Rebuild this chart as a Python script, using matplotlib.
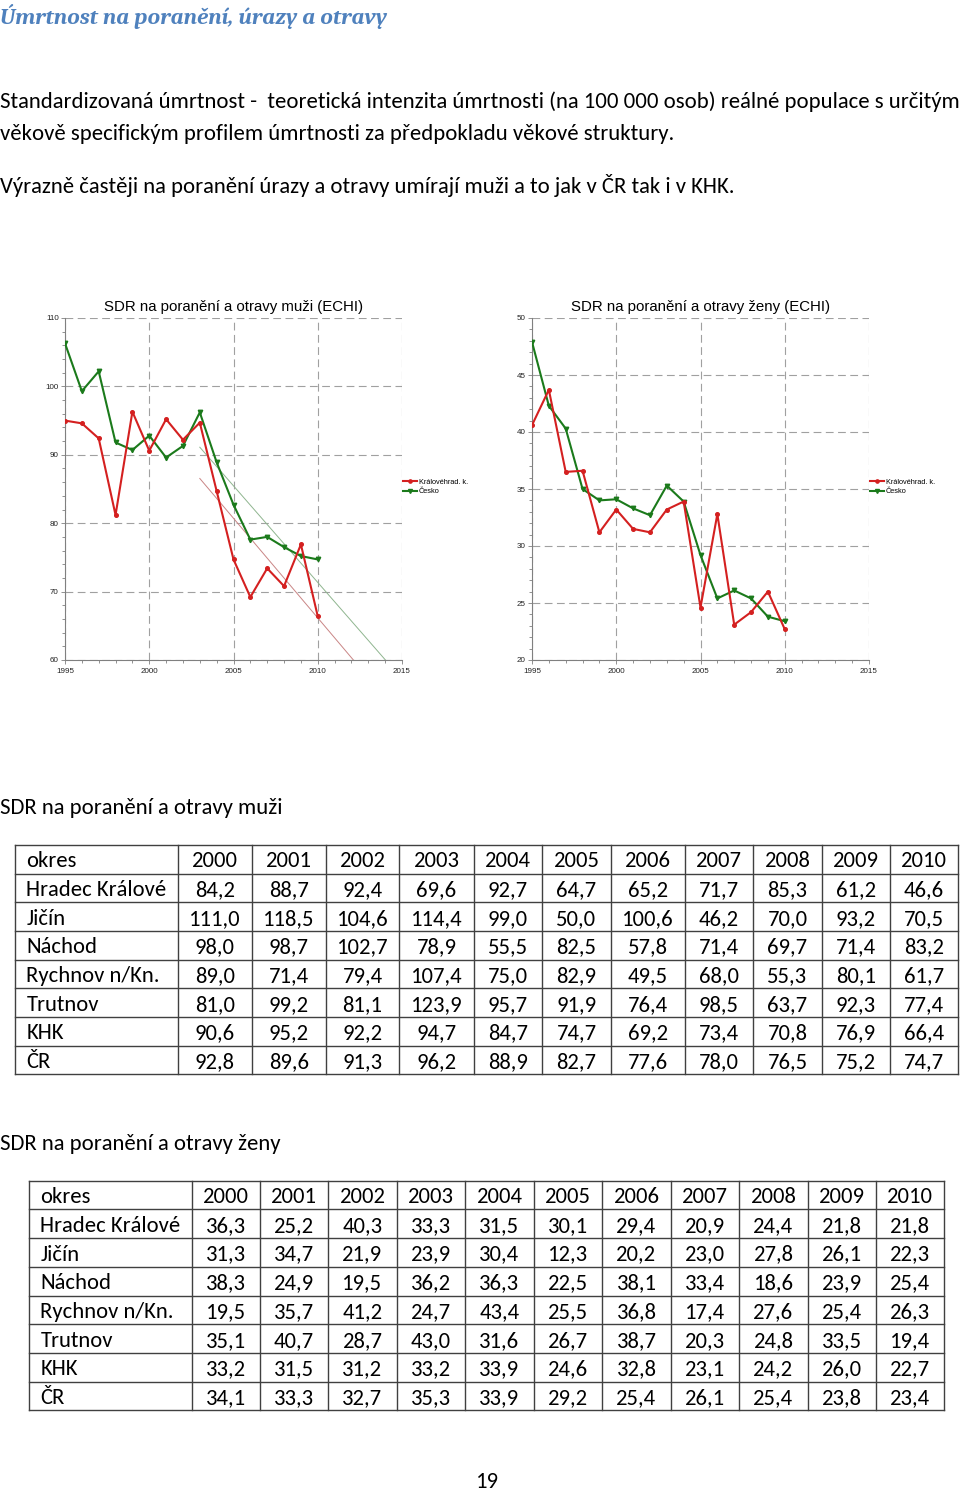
import numpy as np
import matplotlib
matplotlib.use("Agg")
import matplotlib.pyplot as plt
from matplotlib import font_manager as fm
from matplotlib.ticker import MultipleLocator

# ---------------- data ----------------
years = [1995, 1996, 1997, 1998, 1999, 2000, 2001, 2002,
         2003, 2004, 2005, 2006, 2007, 2008, 2009, 2010]
men_khk = [95.0, 94.6, 92.4, 81.2, 96.3, 90.6, 95.2, 92.2,
           94.7, 84.7, 74.7, 69.2, 73.4, 70.8, 76.9, 66.4]
men_cz = [106.3, 99.3, 102.2, 91.8, 90.7, 92.8, 89.6, 91.3,
          96.2, 88.9, 82.7, 77.6, 78.0, 76.5, 75.2, 74.7]
women_khk = [40.6, 43.7, 36.5, 36.6, 31.2, 33.2, 31.5, 31.2,
             33.2, 33.9, 24.6, 32.8, 23.1, 24.2, 26.0, 22.7]
women_cz = [47.9, 42.3, 40.3, 35.0, 34.0, 34.1, 33.3, 32.7,
            35.3, 33.9, 29.2, 25.4, 26.1, 25.4, 23.8, 23.4]
trend_start = 2003

series_labels = ["Královéhrad. k.", "Česko"]
chart_titles = ["SDR na poranění a otravy muži (ECHI)",
                "SDR na poranění a otravy ženy (ECHI)"]

table_years = ["2000", "2001", "2002", "2003", "2004", "2005",
               "2006", "2007", "2008", "2009", "2010"]
districts = ["Hradec Králové", "Jičín", "Náchod", "Rychnov n/Kn.",
             "Trutnov", "KHK", "ČR"]
men_table = [
    [84.2, 88.7, 92.4, 69.6, 92.7, 64.7, 65.2, 71.7, 85.3, 61.2, 46.6],
    [111.0, 118.5, 104.6, 114.4, 99.0, 50.0, 100.6, 46.2, 70.0, 93.2, 70.5],
    [98.0, 98.7, 102.7, 78.9, 55.5, 82.5, 57.8, 71.4, 69.7, 71.4, 83.2],
    [89.0, 71.4, 79.4, 107.4, 75.0, 82.9, 49.5, 68.0, 55.3, 80.1, 61.7],
    [81.0, 99.2, 81.1, 123.9, 95.7, 91.9, 76.4, 98.5, 63.7, 92.3, 77.4],
    [90.6, 95.2, 92.2, 94.7, 84.7, 74.7, 69.2, 73.4, 70.8, 76.9, 66.4],
    [92.8, 89.6, 91.3, 96.2, 88.9, 82.7, 77.6, 78.0, 76.5, 75.2, 74.7],
]
women_table = [
    [36.3, 25.2, 40.3, 33.3, 31.5, 30.1, 29.4, 20.9, 24.4, 21.8, 21.8],
    [31.3, 34.7, 21.9, 23.9, 30.4, 12.3, 20.2, 23.0, 27.8, 26.1, 22.3],
    [38.3, 24.9, 19.5, 36.2, 36.3, 22.5, 38.1, 33.4, 18.6, 23.9, 25.4],
    [19.5, 35.7, 41.2, 24.7, 43.4, 25.5, 36.8, 17.4, 27.6, 25.4, 26.3],
    [35.1, 40.7, 28.7, 43.0, 31.6, 26.7, 38.7, 20.3, 24.8, 33.5, 19.4],
    [33.2, 31.5, 31.2, 33.2, 33.9, 24.6, 32.8, 23.1, 24.2, 26.0, 22.7],
    [34.1, 33.3, 32.7, 35.3, 33.9, 29.2, 25.4, 26.1, 25.4, 23.8, 23.4],
]

heading = "Úmrtnost na poranění, úrazy a otravy"
body_lines = [
    "Standardizovaná úmrtnost -  teoretická intenzita úmrtnosti (na 100 000 osob) reálné populace s určitým",
    "věkově specifickým profilem úmrtnosti za předpokladu věkové struktury.",
    "Výrazně častěji na poranění úrazy a otravy umírají muži a to jak v ČR tak i v KHK.",
]
table_titles = ["SDR na poranění a otravy muži", "SDR na poranění a otravy ženy"]
page_number = "19"

# ---------------- fonts ----------------
avail = {f.name for f in fm.fontManager.ttflist}


def pick(*names):
    for n in names:
        if n in avail:
            return n
    return "DejaVu Sans"


body_font = pick("Carlito", "Calibri", "Lato", "Open Sans", "Noto Sans")
head_font = pick("Caladea", "Cambria", "Liberation Serif", "DejaVu Serif")
chart_font = pick("Liberation Sans", "Arial", "DejaVu Sans")

W, H = 960, 1491
fig = plt.figure(figsize=(W / 100, H / 100), dpi=100)
page = fig.add_axes([0, 0, 1, 1])
page.set_xlim(0, W)
page.set_ylim(H, 0)
page.axis("off")
renderer = fig.canvas.get_renderer()


def width_of(s, size, family, **kw):
    t = page.text(0, 0, s, fontsize=size, family=family, **kw)
    w = t.get_window_extent(renderer).width
    t.remove()
    return w


# ---------------- page text ----------------
hsize = 12 * 385 / width_of(heading, 12, head_font, style="italic",
                            weight="semibold")
page.text(0, 24, heading, fontsize=hsize, family=head_font, style="italic",
          weight="semibold", color="#4F81BD", va="baseline")

bsize = 12 * 957 / width_of(body_lines[0], 12, body_font)
for s, yb in zip(body_lines, [108, 140, 193]):
    page.text(0, yb, s, fontsize=bsize, family=body_font, color="black",
              va="baseline")

# ---------------- charts ----------------
def chart(px, ylim, ymaj, ymin, khk, cz, title, trend):
    l, r, t, b = px
    ax = fig.add_axes([l / W, 1 - b / H, (r - l) / W, (b - t) / H])
    ax.set_xlim(1995, 2015)
    ax.set_ylim(*ylim)
    ax.patch.set_alpha(0)
    ax.plot(years, khk, color="#d42020", lw=1.5, marker="o", ms=2.6,
            label=series_labels[0], zorder=4)
    ax.plot(years, cz, color="#1b7a1b", lw=1.5, marker="v", ms=3.2,
            label=series_labels[1], zorder=3)
    if trend:
        yrs = np.array(years)
        m = yrs >= trend_start
        xs = np.array([trend_start, 2015])
        pc = np.polyfit(yrs[m], np.array(cz)[m], 1)
        pk = np.polyfit(yrs[m], np.array(khk)[m], 1)
        ax.plot(xs, np.polyval(pc, xs), color="#8fb58f", lw=0.7, zorder=2)
        ax.plot(xs, np.polyval(pk, xs), color="#c98585", lw=0.7, zorder=2)
    ax.xaxis.set_major_locator(MultipleLocator(5))
    ax.xaxis.set_minor_locator(MultipleLocator(1))
    ax.yaxis.set_major_locator(MultipleLocator(ymaj))
    ax.yaxis.set_minor_locator(MultipleLocator(ymin))
    ax.grid(True, which="major", color="#a0a0a0", lw=0.8,
            linestyle=(0, (7, 4)))
    for s in ["top", "right"]:
        ax.spines[s].set_visible(False)
    for s in ["left", "bottom"]:
        ax.spines[s].set_color("#808080")
        ax.spines[s].set_linewidth(0.8)
    ax.tick_params(which="both", colors="#808080", width=0.6,
                   labelcolor="#222222", labelsize=5.8)
    ax.tick_params(axis="x", pad=2.5)
    ax.tick_params(axis="y", pad=1.5)
    ax.tick_params(which="major", length=3)
    ax.tick_params(which="minor", length=2)
    for lab in ax.get_xticklabels() + ax.get_yticklabels():
        lab.set_family(chart_font)
    ax.set_title(title, fontsize=10.8, family=chart_font, pad=5)
    ax.legend(loc="center left", bbox_to_anchor=(1.0, 0.506),
              frameon=False, prop={"family": chart_font, "size": 5.3},
              handlelength=1.8, handletextpad=0.3, borderaxespad=0,
              labelspacing=0.35, borderpad=0.2, markerscale=0.9)
    return ax


chart((65, 402, 318, 660), (60, 110), 10, 2, men_khk, men_cz,
      chart_titles[0], True)
chart((532, 869, 318, 660), (20, 50), 5, 1, women_khk, women_cz,
      chart_titles[1], False)

# ---------------- tables ----------------
tsize = 12 * 139 / width_of(districts[0], 12, body_font)


def fmt(v):
    return f"{v:.1f}".replace(".", ",")


def table(x_edges, y_top, y_bot, rows, pad_left):
    n = len(rows) + 1
    y_edges = np.linspace(y_top, y_bot, n + 1)
    for y in y_edges:
        page.plot([x_edges[0], x_edges[-1]], [y, y], color="#404040", lw=1.0)
    for x in x_edges:
        page.plot([x, x], [y_top, y_bot], color="#404040", lw=1.0)
    cap = tsize * 100 / 72 * 0.36
    all_rows = [["okres"] + table_years] + [
        [d] + [fmt(v) for v in vals] for d, vals in zip(districts, rows)]
    for i, row in enumerate(all_rows):
        yc = (y_edges[i] + y_edges[i + 1]) / 2 + cap
        page.text(x_edges[0] + pad_left, yc, row[0], fontsize=tsize,
                  family=body_font, va="baseline", ha="left")
        for j, cell in enumerate(row[1:]):
            xc = (x_edges[j + 1] + x_edges[j + 2]) / 2
            page.text(xc, yc, cell, fontsize=tsize, family=body_font,
                      va="baseline", ha="center")


page.text(0, 814, table_titles[0], fontsize=bsize, family=body_font,
          va="baseline")
table([15, 178, 252, 326, 399, 474, 542, 611, 685, 753, 822, 890, 958],
      845, 1074.3, men_table, 11.5)

page.text(0, 1150, table_titles[1], fontsize=bsize, family=body_font,
          va="baseline")
table([29, 192, 260, 328, 397, 465, 534, 602, 671, 739, 808, 876, 944],
      1180.7, 1410.3, women_table, 11.5)

page.text(487, 1488, page_number, fontsize=bsize, family=body_font,
          va="baseline", ha="center")

fig.savefig("out.png", dpi=100)
